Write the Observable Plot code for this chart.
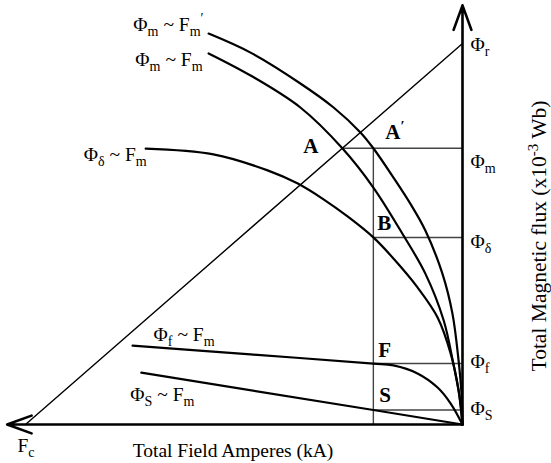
<!DOCTYPE html>
<html>
<head>
<meta charset="utf-8">
<script src="https://cdn.jsdelivr.net/npm/d3@7"></script>
<script src="https://cdn.jsdelivr.net/npm/@observablehq/plot@0.6"></script>
<style>
  body { margin: 0; background: #fff; }
  #chart svg { display: block; }
</style>
</head>
<body>
<div id="chart"></div>
<script>
// Permanent-magnet operating point construction.
// F = field amperes (increasing to the left), Φ = total flux (upwards), both in relative units.

// Flux levels read on the Φ axis
const phiR = 100, phiM = 72.5, phiDelta = 49.1, phiF = 16.0, phiS = 3.8;
// Field amperes of the operating points
const fC = 100, fA = 27.5, fA2 = 20.4;

// Demagnetisation / leakage characteristics, [F, Φ] pairs
const curveMPrime = [[58.1,102.6],[48.5,97.6],[37.1,89.5],[29.5,83.2],[23.3,76.6],[20.4,72.5],[15.8,64.8],[11.7,57.5],[8.5,50.9],[4.6,39.6],[2.3,29.1],[0.9,16.8],[0.2,7.6],[0,0]];
const curveM      = [[58.1,97.4],[48.5,91.6],[37.1,83.2],[27.5,72.5],[20.4,62.2],[13.5,49.6],[8.5,39.6],[4.3,27.3],[2.1,16.0],[0.7,7.6],[0,0]];
const curveDelta  = [[72.5,72.4],[57.0,70.9],[44.6,66.7],[37.8,63.3],[31.8,59.1],[26.3,54.6],[20.4,49.1],[15.6,43.3],[10.3,36.0],[5.7,28.1],[2.7,18.6],[0.9,8.9],[0,0]];
const curveF      = [[75.5,20.7],[48.5,18.4],[20.4,16.0],[15.8,15.5],[10.3,13.4],[5.7,9.7],[2.7,5.5],[0,0]];
const curveS      = [[73.5,13.6],[20.4,3.8],[0,0]];

// Load line from Φr down to Fc
const loadLine = [[0, phiR], [fC, 0]];

// Axis extent beyond the data domain (for the arrow heads)
const axisReach = {F: 104.2, phi: 110};

// Text labels (markup: _{..} subscript, ^{..} superscript)
const curveLabels = {
  mPrime: "Φ_{m} ~ F_{m}^{′}",
  m: "Φ_{m} ~ F_{m}",
  delta: "Φ_{δ} ~ F_{m}",
  f: "Φ_{f} ~ F_{m}",
  s: "Φ_{S} ~ F_{m}"
};
const levelLabels = ["Φ_{r}", "Φ_{m}", "Φ_{δ}", "Φ_{f}", "Φ_{S}"];
const pointLabels = ["A", "A^{′}", "B", "F", "S"];
const xTitle = "Total Field Amperes (kA)";
const yTitle = "Total Magnetic flux (x10^{-3} Wb)";
const fcLabel = "F_{c}";

const px = d => d[0], py = d => d[1];
const textBase = {fontFamily: "'Liberation Serif', 'Times New Roman', serif", fill: "#000"};

const axes = [
  {x1: 0, y1: 0, x2: axisReach.F, y2: 0},
  {x1: 0, y1: 0, x2: 0, y2: axisReach.phi}
];
const guides = [
  {x1: fA, y1: phiM, x2: 0, y2: phiM},
  {x1: fA2, y1: phiM, x2: fA2, y2: 0},
  {x1: fA2, y1: phiDelta, x2: 0, y2: phiDelta},
  {x1: fA2, y1: phiF, x2: 0, y2: phiF},
  {x1: fA2, y1: phiS, x2: 0, y2: phiS}
];

const levels = [phiR, phiM, phiDelta, phiF, phiS];
const levelDy = [1, 13, 4, -2, -1];
const levelRows = levels.map((v, i) => ({F: 0, phi: v, label: levelLabels[i], dy: levelDy[i]}));

const pointRows = [
  {F: fA,  phi: phiM,     label: pointLabels[0], anchor: "end",   dx: -24, dy: -2},
  {F: fA2, phi: phiM,     label: pointLabels[1], anchor: "start", dx: 12,  dy: -16},
  {F: fA2, phi: phiDelta, label: pointLabels[2], anchor: "start", dx: 4,   dy: -14},
  {F: fA2, phi: phiF,     label: pointLabels[3], anchor: "start", dx: 5,   dy: -13},
  {F: fA2, phi: phiS,     label: pointLabels[4], anchor: "start", dx: 6,   dy: -15}
];

const curveLabelRows = [
  {pt: curveMPrime[0], label: curveLabels.mPrime, anchor: "end",   dx: -5, dy: -9},
  {pt: curveM[0],      label: curveLabels.m,      anchor: "end",   dx: -6, dy: 6},
  {pt: curveDelta[0],  label: curveLabels.delta,  anchor: "end",   dx: 1,  dy: 6},
  {pt: curveF[0],      label: curveLabels.f,      anchor: "start", dx: 21, dy: -11},
  {pt: curveS[0],      label: curveLabels.s,      anchor: "start", dx: -11, dy: 22}
];

const curveStyle = {x: px, y: py, stroke: "#000", strokeWidth: 2.2, curve: "catmull-rom"};

const chart = Plot.plot({
  width: 551,
  height: 463,
  marginLeft: 25,
  marginRight: 89,
  marginTop: 43,
  marginBottom: 39,
  x: {domain: [0, fC], reverse: true, axis: null},
  y: {domain: [0, phiR], axis: null},
  style: {background: "#fff", color: "#000", overflow: "visible"},
  marks: [
    // construction lines
    Plot.link(guides, {x1: "x1", y1: "y1", x2: "x2", y2: "y2", stroke: "#444", strokeWidth: 1.4}),
    Plot.line(loadLine, {x: px, y: py, stroke: "#000", strokeWidth: 1.4}),
    // characteristics
    Plot.line(curveMPrime, curveStyle),
    Plot.line(curveM, curveStyle),
    Plot.line(curveDelta, curveStyle),
    Plot.line(curveF, curveStyle),
    Plot.line(curveS, {...curveStyle, curve: "linear"}),
    // axes with arrow heads
    Plot.arrow(axes, {x1: "x1", y1: "y1", x2: "x2", y2: "y2", stroke: "#000", strokeWidth: 2.6, headLength: 15, headAngle: 40}),
    // curve names
    Plot.text(curveLabelRows, {...textBase, x: d => d.pt[0], y: d => d.pt[1], text: "label", fontSize: 19.5, className: "rich curve-label"}),
    // flux levels on the Φ axis
    Plot.text(levelRows, {...textBase, x: "F", y: "phi", text: "label", textAnchor: "start", dx: 8, fontSize: 19.5, className: "rich level-label"}),
    // operating points
    Plot.text(pointRows, {...textBase, x: "F", y: "phi", text: "label", fontSize: 21, fontWeight: "bold", className: "rich point-label"}),
    // F_c at the end of the load line
    Plot.text([fcLabel], {...textBase, x: fC, y: 0, textAnchor: "start", dx: -8, dy: 21, fontSize: 19.5, className: "rich"}),
    // axis titles
    Plot.text([xTitle], {...textBase, frameAnchor: "bottom", lineAnchor: "middle", textAnchor: "middle", dx: -11, dy: 26, fontSize: 19.5}),
    Plot.text([yTitle], {...textBase, frameAnchor: "right", lineAnchor: "middle", textAnchor: "middle", rotate: -90, dx: 77, dy: 2, fontSize: 21.5, className: "rich"})
  ]
});

// Per-datum offsets and anchors for the label marks
function placeLabels(svg) {
  const apply = (cls, rows) => {
    d3.select(svg).selectAll(`g.${cls} text`).each(function(_, i) {
      const r = rows[i];
      if (!r) return;
      const t = this.getAttribute("transform") || "";
      this.setAttribute("transform", `${t} translate(${r.dx ?? 0},${r.dy ?? 0})`);
      if (r.anchor) this.setAttribute("text-anchor", r.anchor);
    });
  };
  apply("curve-label", curveLabelRows);
  apply("level-label", levelRows.map(r => ({dy: r.dy})));
  apply("point-label", pointRows);
}

// Turn _{..} / ^{..} markup into sub/superscript tspans
function richText(svg) {
  d3.select(svg).selectAll("g.rich text").each(function() {
    const src = this.textContent;
    if (!/[_^]\{/.test(src)) return;
    const el = d3.select(this);
    el.text(null);
    const re = /([_^])\{([^}]*)\}|([^_^]+)/g;
    let m, off = 0;
    const sub = 5, sup = 8;
    while ((m = re.exec(src))) {
      if (m[3] !== undefined) {
        const t = el.append("tspan").text(m[3]);
        if (off) t.attr("dy", -off);
        off = 0;
      } else if (m[1] === "_") {
        el.append("tspan").attr("font-size", "72%").attr("dy", sub - off).text(m[2]);
        off = sub;
      } else {
        el.append("tspan").attr("font-size", "70%").attr("dy", -sup - off).text(m[2]);
        off = -sup;
      }
    }
  });
}

placeLabels(chart);
richText(chart);
document.getElementById("chart").appendChild(chart);
</script>
</body>
</html>
